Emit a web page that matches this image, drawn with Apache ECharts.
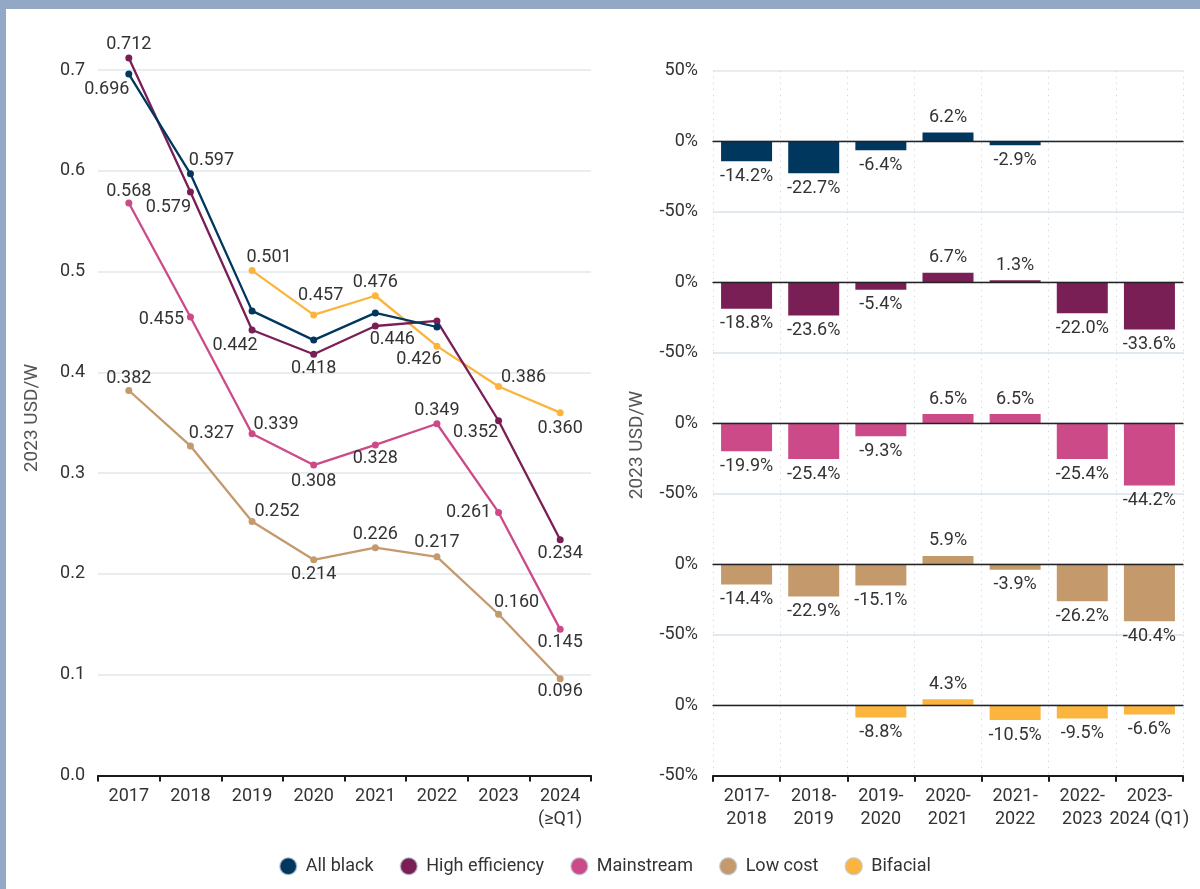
<!DOCTYPE html>
<html>
<head>
<meta charset="utf-8">
<title>Module prices</title>
<script src="https://cdn.jsdelivr.net/npm/echarts@6/dist/echarts.min.js"></script>
<style>
  html, body { margin: 0; padding: 0; background: #ffffff; }
  #chart { width: 1200px; height: 889px; }
</style>
</head>
<body>
<div id="chart"></div>
<script>
// Module price levels (2023 USD/W) by year
const years = ['2017', '2018', '2019', '2020', '2021', '2022', '2023', '2024\n(≥Q1)'];
const allBlack   = [0.696, 0.597, 0.461, 0.432, 0.459, 0.445, null, null];
const highEff    = [0.712, 0.579, 0.442, 0.418, 0.446, 0.451, 0.352, 0.234];
const mainstream = [0.568, 0.455, 0.339, 0.308, 0.328, 0.349, 0.261, 0.145];
const lowCost    = [0.382, 0.327, 0.252, 0.214, 0.226, 0.217, 0.160, 0.096];
const bifacial   = [null, null, 0.501, 0.457, 0.476, 0.426, 0.386, 0.360];
const priceTicks = [0, 0.1, 0.2, 0.3, 0.4, 0.5, 0.6, 0.7];

// Year-on-year change (%)
const periods = ['2017-\n2018', '2018-\n2019', '2019-\n2020', '2020-\n2021', '2021-\n2022', '2022-\n2023', '2023-\n2024 (Q1)'];
const chgAllBlack   = [-14.2, -22.7, -6.4, 6.2, -2.9, null, null];
const chgHighEff    = [-18.8, -23.6, -5.4, 6.7, 1.3, -22.0, -33.6];
const chgMainstream = [-19.9, -25.4, -9.3, 6.5, 6.5, -25.4, -44.2];
const chgLowCost    = [-14.4, -22.9, -15.1, 5.9, -3.9, -26.2, -40.4];
const chgBifacial   = [null, null, -8.8, 4.3, -10.5, -9.5, -6.6];
const changeTicks = [-50, 0, 50];

const seriesNames = ['All black', 'High efficiency', 'Mainstream', 'Low cost', 'Bifacial'];
const colors = ['#00375f', '#7a1f55', '#cc4a88', '#c49a6c', '#fbb53f'];

// label placement around each point: [dx, dy] from the marker centre (null = no label)
const labelShift = [
  [[-22, 15], [21, -13], null, null, null, null, null, null],
  [[0, -13], [-22, 16], [-17, 15], [0, 14], [17, 14], null, [-23, 12], [0, 14]],
  [[0, -12], [-29, 3], [24, -9], [0, 16], [0, 14], [0, -13], [-30, 0], [0, 13]],
  [[0, -12], [21, -12], [25, -10], [0, 15], [0, -13], [0, -14], [18, -12], [0, 13]],
  [null, null, [17, -13], [7, -19], [0, -13], [-18, 13], [25, -9], [0, 16]]
];

const priceSets = [allBlack, highEff, mainstream, lowCost, bifacial];
const changeSets = [chgAllBlack, chgHighEff, chgMainstream, chgLowCost, chgBifacial];

const FONT = 'Roboto';
const TXT = '#333333';
const FS = 18;

const chart = echarts.init(document.getElementById('chart'), null, { renderer: 'canvas' });

const grids = [{ left: 98, right: 609, top: 70, bottom: 113.5 }];
const panelTop = 70.7, panelH = 141;
for (let i = 0; i < 5; i++) {
  grids.push({ left: 713, right: 17, top: panelTop + i * panelH, height: panelH });
}

const xAxes = [{
  gridIndex: 0,
  type: 'category',
  data: years,
  boundaryGap: true,
  axisLine: { lineStyle: { color: '#1a1a1a', width: 2 } },
  axisTick: { show: true, interval: 0, length: 6, lineStyle: { color: '#1a1a1a', width: 2 } },
  axisLabel: { interval: 0, color: TXT, fontFamily: FONT, fontSize: FS, margin: 9, lineHeight: 23 },
  splitLine: { show: false }
}];
for (let i = 0; i < 5; i++) {
  xAxes.push({
    gridIndex: i + 1,
    type: 'category',
    data: periods,
    boundaryGap: true,
    z: 3,
    axisLine: { onZero: true, lineStyle: { color: '#222222', width: 1.3 } },
    axisTick: { show: false, interval: 0 },
    axisLabel: { show: false, interval: 0 },
    splitLine: { show: true, interval: 0, lineStyle: { color: '#d6dbe1', width: 1, type: [1.5, 4.5] } }
  });
}
// bottom category axis of the last panel
xAxes.push({
  gridIndex: 5,
  type: 'category',
  data: periods,
  boundaryGap: true,
  position: 'bottom',
  axisLine: { onZero: false, lineStyle: { color: '#1a1a1a', width: 2 } },
  axisTick: { show: true, interval: 0, length: 6, lineStyle: { color: '#1a1a1a', width: 2 } },
  axisLabel: { interval: 0, color: TXT, fontFamily: FONT, fontSize: FS, margin: 9, lineHeight: 23 },
  splitLine: { show: false }
});

const yAxes = [{
  gridIndex: 0,
  type: 'value',
  min: priceTicks[0],
  max: priceTicks[priceTicks.length - 1],
  interval: 0.1,
  axisLine: { show: false },
  axisTick: { show: false },
  axisLabel: { color: TXT, fontFamily: FONT, fontSize: FS, margin: 13, formatter: v => v.toFixed(1) },
  splitLine: { lineStyle: { color: '#e1e7ee', width: 1.5 } }
}];
for (let i = 0; i < 5; i++) {
  yAxes.push({
    gridIndex: i + 1,
    type: 'value',
    min: changeTicks[0],
    max: changeTicks[changeTicks.length - 1],
    interval: 50,
    axisLine: { show: false },
    axisTick: { show: false },
    axisLabel: {
      color: TXT, fontFamily: FONT, fontSize: FS, margin: 15,
      formatter: v => (i > 0 && v === 50) ? '' : v + '%'
    },
    splitLine: { lineStyle: { color: '#e1e7ee', width: 1.5 } }
  });
}

const series = [];
priceSets.forEach((vals, s) => {
  series.push({
    name: seriesNames[s],
    type: 'line',
    xAxisIndex: 0,
    yAxisIndex: 0,
    clip: false,
    z: 5 - s + 2,
    symbol: 'circle',
    symbolSize: 7,
    color: colors[s],
    lineStyle: { width: 2.3, color: colors[s] },
    itemStyle: { color: colors[s] },
    emphasis: { disabled: true },
    data: vals.map((v, k) => {
      if (v === null) return '-';
      const sh = labelShift[s][k];
      return {
        value: v,
        label: sh ? {
          show: true, position: 'inside', offset: sh,
          align: 'center', verticalAlign: 'middle',
          color: TXT, fontFamily: FONT, fontSize: FS,
          formatter: p => Number(p.value).toFixed(3)
        } : { show: false }
      };
    })
  });
});

changeSets.forEach((vals, s) => {
  series.push({
    name: seriesNames[s],
    type: 'bar',
    xAxisIndex: s + 1,
    yAxisIndex: s + 1,
    barWidth: 51,
    color: colors[s],
    itemStyle: { color: colors[s] },
    emphasis: { disabled: true },
    data: vals.map(v => v === null ? '-' : {
      value: v,
      label: {
        show: true,
        position: v < 0 ? 'bottom' : 'top',
        distance: 6,
        color: TXT, fontFamily: FONT, fontSize: FS,
        formatter: p => Number(p.value).toFixed(1) + '%'
      }
    })
  });
});

const option = {
  backgroundColor: '#ffffff',
  animation: false,
  textStyle: { fontFamily: FONT },
  grid: grids,
  xAxis: xAxes,
  yAxis: yAxes,
  legend: {
    data: seriesNames.map((n, i) => ({ name: n, itemStyle: { color: colors[i] } })),
    top: 852,
    left: 274,
    icon: 'circle',
    itemWidth: 17,
    itemHeight: 17,
    itemGap: 26,
    itemStyle: { borderColor: 'rgba(190,200,212,0.7)', borderWidth: 1.5 },
    textStyle: { color: TXT, fontFamily: FONT, fontSize: FS, padding: [0, 0, 0, 4] },
    selectedMode: false
  },
  graphic: [
    { type: 'rect', silent: true, shape: { x: 0, y: 0, width: 1200, height: 9 }, style: { fill: '#93a8c5' } },
    { type: 'rect', silent: true, shape: { x: 0, y: 0, width: 6, height: 889 }, style: { fill: '#93a8c5' } },
    {
      type: 'text', silent: true, x: 32, y: 418, rotation: Math.PI / 2,
      style: { text: '2023 USD/W', fill: '#555555', font: '19px ' + FONT, align: 'center', verticalAlign: 'middle' }
    },
    {
      type: 'text', silent: true, x: 637, y: 445, rotation: Math.PI / 2,
      style: { text: '2023 USD/W', fill: '#555555', font: '19px ' + FONT, align: 'center', verticalAlign: 'middle' }
    }
  ],
  series: series
};

chart.setOption(option);
</script>
</body>
</html>
